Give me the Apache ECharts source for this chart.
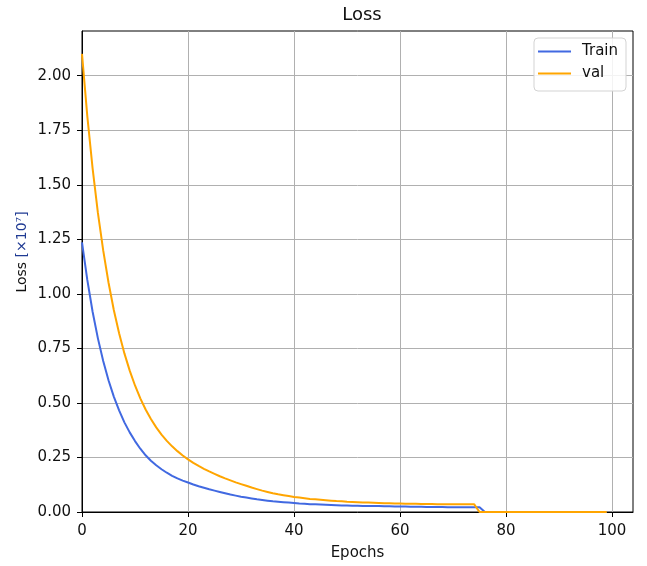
<!DOCTYPE html>
<html>
<head>
<meta charset="utf-8">
<script src="https://cdn.jsdelivr.net/npm/echarts@6/dist/echarts.min.js"></script>
<style>html,body{margin:0;padding:0;background:#fff}#c{width:647px;height:566px}</style>
</head>
<body>
<div id="c"></div>
<script>
const epochs = Array.from({length: 100}, (_, i) => i);
const trainLoss = [
  1.236, 1.064, 0.918, 0.796, 0.692, 0.604, 0.529, 0.466, 0.411, 0.365,
  0.325, 0.290, 0.260, 0.235, 0.214, 0.196, 0.180, 0.166, 0.154, 0.144,
  0.135, 0.126, 0.118, 0.111, 0.104, 0.098, 0.092, 0.086, 0.080, 0.075,
  0.070, 0.066, 0.062, 0.058, 0.055, 0.052, 0.049, 0.047, 0.045, 0.043,
  0.041, 0.039, 0.038, 0.036, 0.035, 0.034, 0.033, 0.032, 0.031, 0.030,
  0.030, 0.029, 0.029, 0.028, 0.028, 0.027, 0.027, 0.026, 0.026, 0.025,
  0.025, 0.025, 0.024, 0.024, 0.024, 0.023, 0.023, 0.023, 0.023, 0.022,
  0.022, 0.022, 0.022, 0.022, 0.022, 0.022, 0, 0, 0, 0,
  0, 0, 0, 0, 0, 0, 0, 0, 0, 0,
  0, 0, 0, 0, 0, 0, 0, 0, 0, 0
];
const valLoss = [
  2.100, 1.815, 1.575, 1.371, 1.199, 1.052, 0.926, 0.819, 0.727, 0.648,
  0.580, 0.521, 0.470, 0.426, 0.388, 0.355, 0.326, 0.301, 0.279, 0.259,
  0.241, 0.225, 0.211, 0.198, 0.186, 0.175, 0.164, 0.154, 0.145, 0.136,
  0.128, 0.120, 0.112, 0.105, 0.098, 0.092, 0.086, 0.081, 0.077, 0.073,
  0.069, 0.066, 0.063, 0.060, 0.058, 0.056, 0.054, 0.052, 0.050, 0.049,
  0.047, 0.046, 0.045, 0.044, 0.043, 0.042, 0.041, 0.040, 0.040, 0.039,
  0.039, 0.038, 0.038, 0.038, 0.037, 0.037, 0.037, 0.036, 0.036, 0.036,
  0.036, 0.035, 0.035, 0.035, 0.035, 0, 0, 0, 0, 0,
  0, 0, 0, 0, 0, 0, 0, 0, 0, 0,
  0, 0, 0, 0, 0, 0, 0, 0, 0, 0
];
const seriesNames = ['Train', 'val'];
const xTicks = [0, 20, 40, 60, 80, 100];
const yTicks = [0, 0.25, 0.5, 0.75, 1.0, 1.25, 1.5, 1.75, 2.0];
const titleText = 'Loss';
const xName = 'Epochs';

const FONT = 'DejaVu Sans';
const TXT = '#111';
const chart = echarts.init(document.getElementById('c'), null, {renderer: 'canvas'});
chart.setOption({
  animation: false,
  backgroundColor: '#fff',
  textStyle: {fontFamily: FONT},
  title: {
    text: titleText, left: 357, top: 1, textAlign: 'center',
    textStyle: {fontFamily: FONT, fontSize: 18, fontWeight: 'normal', color: TXT}
  },
  grid: {left: 82, right: 14, top: 31, bottom: 52, show: true, borderColor: '#000', borderWidth: 1, containLabel: false},
  legend: {
    orient: 'vertical', right: 21, top: 38,
    data: seriesNames,
    icon: 'rect', itemWidth: 33, itemHeight: 2, itemGap: 7,
    backgroundColor: 'rgba(255,255,255,0.85)', borderColor: '#d3d3d3', borderWidth: 1, borderRadius: 4,
    padding: [6, 8, 10, 4],
    textStyle: {fontFamily: FONT, fontSize: 15, color: TXT, padding: [0, 0, 0, 6]}
  },
  xAxis: {
    type: 'value', min: 0, max: 103.95, interval: 20,
    name: xName, nameLocation: 'middle', nameGap: 34,
    nameTextStyle: {fontFamily: FONT, fontSize: 15, color: TXT},
    axisLine: {show: true, onZero: false, lineStyle: {color: '#000', width: 1}},
    axisTick: {show: true, inside: false, length: 5, lineStyle: {color: '#000'}, customValues: xTicks},
    axisLabel: {fontFamily: FONT, fontSize: 15, color: TXT, margin: 12, customValues: xTicks},
    splitLine: {show: true, lineStyle: {color: '#b0b0b0', width: 1}}
  },
  yAxis: {
    type: 'value', min: 0, max: 2.205, interval: 0.25,
    axisLine: {show: true, onZero: false, lineStyle: {color: '#000', width: 1}},
    axisTick: {show: true, inside: false, length: 5, lineStyle: {color: '#000'}, customValues: yTicks},
    axisLabel: {fontFamily: FONT, fontSize: 15, color: TXT, margin: 11, customValues: yTicks,
      formatter: v => v.toFixed(2)},
    splitLine: {show: true, lineStyle: {color: '#b0b0b0', width: 1}}
  },
  graphic: [{
    type: 'text', x: 22, y: 252, rotation: Math.PI / 2,
    style: {
      text: '{a|Loss }{b|[×10⁷]}',
      align: 'center', verticalAlign: 'middle',
      rich: {
        a: {fontFamily: FONT, fontSize: 14, fill: TXT, color: TXT},
        b: {fontFamily: FONT, fontSize: 14, fill: '#1f3a93', color: '#1f3a93'}
      }
    }
  }],
  series: [
    {name: seriesNames[0], type: 'line', showSymbol: false, symbol: 'none',
     color: '#4169e1', lineStyle: {width: 2, color: '#4169e1'},
     data: epochs.map((e, i) => [e, trainLoss[i]])},
    {name: seriesNames[1], type: 'line', showSymbol: false, symbol: 'none',
     color: '#ffa500', lineStyle: {width: 2, color: '#ffa500'},
     data: epochs.map((e, i) => [e, valLoss[i]])}
  ]
});
</script>
</body>
</html>
